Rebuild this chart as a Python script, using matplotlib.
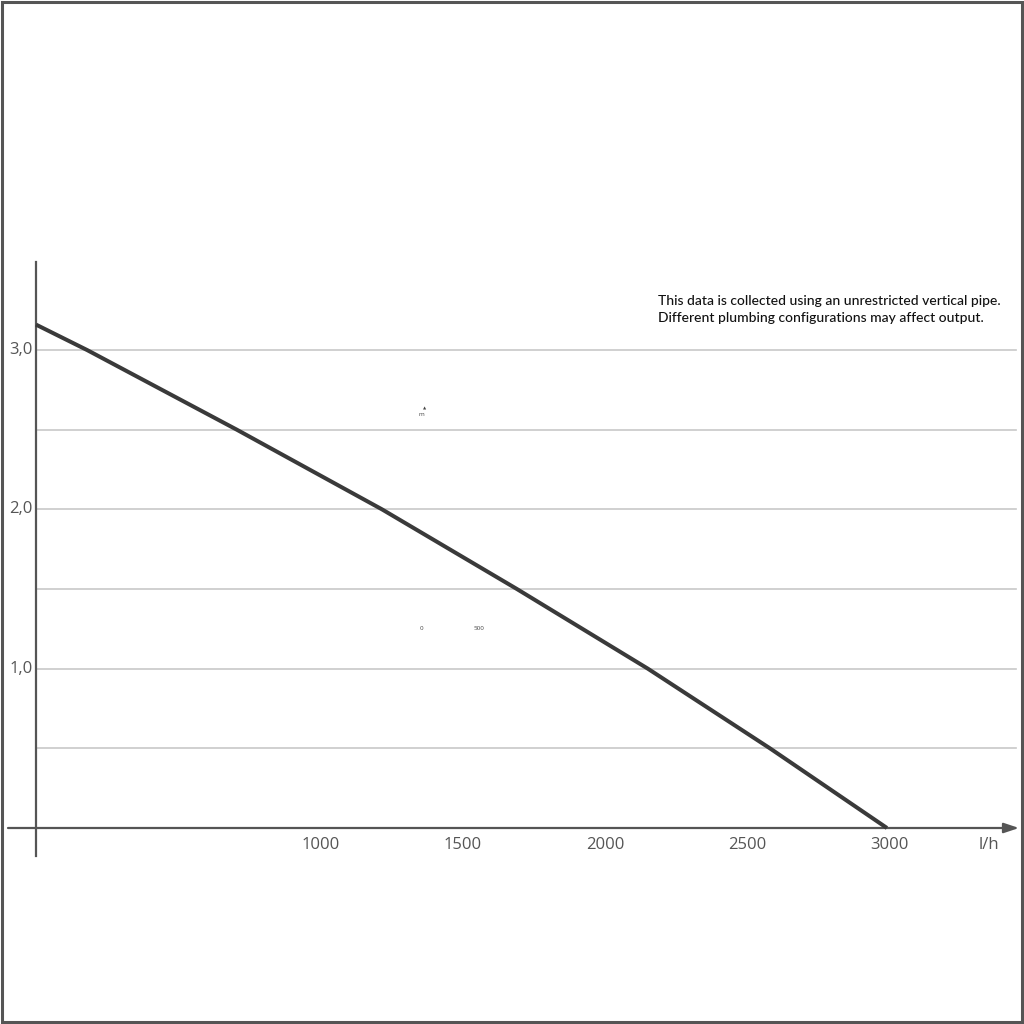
import matplotlib
matplotlib.use("Agg")
import matplotlib.pyplot as plt
from matplotlib.patches import Rectangle

# Data
flow = [0, 180, 706, 1216, 1690, 2150, 2579, 2990]          # l/h
head = [3.16, 3.0, 2.5, 2.0, 1.5, 1.0, 0.5, 0.0]            # m
grid_levels = [0.5, 1.0, 1.5, 2.0, 2.5, 3.0]
y_ticks = [1.0, 2.0, 3.0]
y_labels = ["1,0", "2,0", "3,0"]
x_ticks = [1000, 1500, 2000, 2500, 3000]
x_labels = ["1000", "1500", "2000", "2500", "3000"]
x_unit = "l/h"
note = ("This data is collected using an unrestricted vertical pipe.\n"
        "Different plumbing configurations may affect output.")

plt.rcParams['font.family'] = ['Open Sans', 'DejaVu Sans']

fig = plt.figure(figsize=(10.24, 10.24), dpi=100)
ax = fig.add_axes([0, 0, 1, 1])
# pixel mapping: x px = 36 + flow*0.2846 ; y px(from top) = 828 - head*159.3
sx, sy = 0.2846, 159.3
ax.set_xlim(-36 / sx, (1024 - 36) / sx)
ax.set_ylim(-(1024 - 828) / sy, 828 / sy)
ax.axis("off")

def px_x(p):
    return (p - 36) / sx

def px_y(p):
    return (828 - p) / sy

grid_c = "#c8c8c8"
axis_c = "#555555"
text_c = "#555555"

for g in grid_levels:
    ax.plot([0, px_x(1016)], [g, g], color=grid_c, lw=1.2, zorder=1)

# axes
ax.plot([0, 0], [px_y(856), px_y(262)], color=axis_c, lw=1.6, zorder=2)
ax.annotate("", xy=(px_x(1019), 0), xytext=(px_x(8), 0),
            arrowprops=dict(arrowstyle="-|>,head_length=0.9,head_width=0.3",
                            color=axis_c, lw=1.6, shrinkA=0, shrinkB=0), zorder=2)

# curve
ax.plot(flow, head, color="#3a3a3a", lw=2.9, solid_capstyle="butt",
        solid_joinstyle="round", zorder=3)

# tick labels
for v, s in zip(y_ticks, y_labels):
    ax.text(px_x(33), v, s, ha="right", va="center", fontsize=12, color=text_c)
for v, s in zip(x_ticks, x_labels):
    ax.text(v, px_y(845), s, ha="center", va="center", fontsize=12, color=text_c)
ax.text(px_x(989), px_y(845), x_unit, ha="center", va="center", fontsize=12, color=text_c)

# note
ax.text(px_x(658), px_y(295), note, ha="left", va="top", fontsize=10,
        family=["Lato", "DejaVu Sans"], weight="medium", color="#111111",
        linespacing=1.45)

# tiny stray labels
ax.text(px_x(421), px_y(414), "m", ha="center", va="center", fontsize=4.5, color="#444444")
ax.text(px_x(425), px_y(408), "\u25b2", ha="center", va="center", fontsize=3, color="#444444")
ax.text(px_x(421), px_y(628), "0", ha="center", va="center", fontsize=4.5, color="#444444")
ax.text(px_x(479), px_y(628), "500", ha="center", va="center", fontsize=4.5, color="#444444")

# frame
fig.patches.append(Rectangle((0.0015, 0.0015), 0.997, 0.997, transform=fig.transFigure,
                             fill=False, edgecolor="#555555", lw=2.2))

fig.savefig("out.png", dpi=100, facecolor="white")
